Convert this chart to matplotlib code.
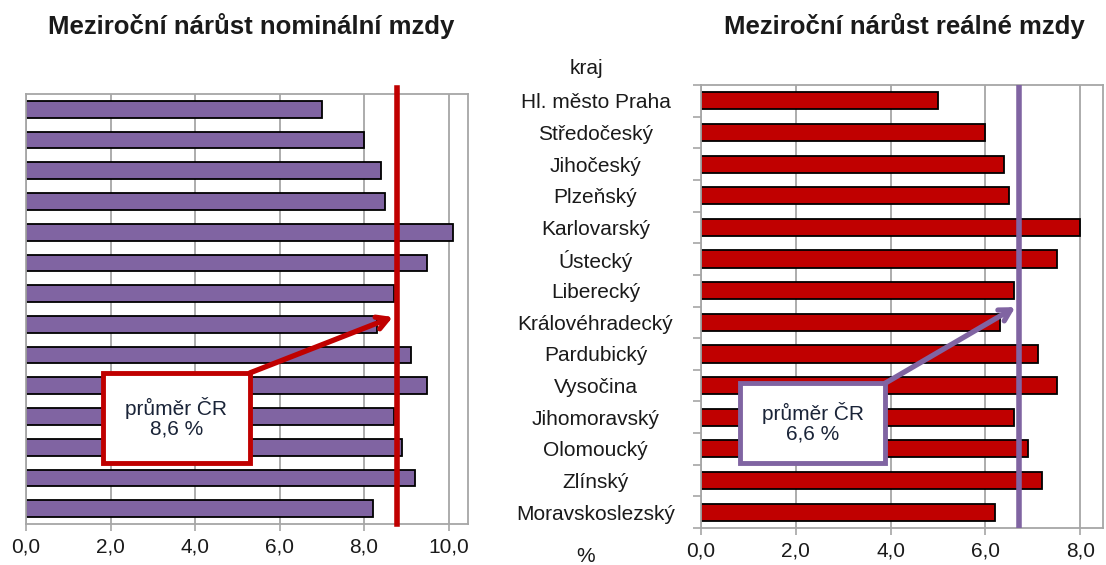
#!/usr/bin/env python3
"""
Meziroční nárůst nominální a reálné mzdy podle krajů
"""

import matplotlib
matplotlib.use('Agg')
import matplotlib.pyplot as plt
from matplotlib.patches import Rectangle
from matplotlib.ticker import FuncFormatter, FixedLocator

kraje = ['Hl. město Praha', 'Středočeský', 'Jihočeský', 'Plzeňský', 'Karlovarský',
         'Ústecký', 'Liberecký', 'Královéhradecký', 'Pardubický', 'Vysočina',
         'Jihomoravský', 'Olomoucký', 'Zlínský', 'Moravskoslezský']
nominalni = [7.0, 8.0, 8.4, 8.5, 10.1, 9.5, 8.7, 8.3, 9.1, 9.5, 8.7, 8.9, 9.2, 8.2]
realne = [5.0, 6.0, 6.4, 6.5, 8.0, 7.5, 6.6, 6.3, 7.1, 7.5, 6.6, 6.9, 7.2, 6.2]

# average lines as drawn in the source, labels as printed
prumer_nominalni = 8.78
prumer_realne = 6.71
popis_nominalni = 'průměr ČR\n8,6 %'
popis_realne = 'průměr ČR\n6,6 %'

PURPLE = '#8064A2'
RED = '#C00000'
GRID = '#A6A6A6'
TEXT = '#1a1a1a'

plt.rcParams['font.family'] = ['Liberation Sans', 'DejaVu Sans']

comma = FuncFormatter(lambda v, p: ('%.1f' % v).replace('.', ','))


def style_axes(ax, xmax, ticks):
    n = len(kraje)
    ax.set_xlim(0, xmax)
    ax.set_ylim(n - 0.5, -0.5)
    ax.set_xticks(ticks)
    ax.xaxis.set_major_formatter(comma)
    ax.grid(axis='x', color=GRID, lw=1.3)
    ax.set_axisbelow(True)
    for s in ax.spines.values():
        s.set_color(GRID)
        s.set_linewidth(1.3)
    ax.tick_params(axis='x', colors=GRID, labelcolor=TEXT, labelsize=15,
                   length=5, width=1.2, pad=5)


def callout(ax, box, text, tip, color):
    x0, y0, x1, y1 = box
    ax.add_patch(Rectangle((x0, y0), x1 - x0, y1 - y0, facecolor='white',
                           edgecolor=color, lw=3.5, zorder=5))
    ax.text((x0 + x1) / 2, (y0 + y1) / 2, text, ha='center', va='center',
            fontsize=15, color='#1a2438', zorder=6, linespacing=1.05)
    ax.annotate('', xy=tip, xytext=(x1, y0), zorder=4,
                arrowprops=dict(arrowstyle='->,head_length=0.8,head_width=0.45',
                                color=color, lw=3.8, shrinkA=0, shrinkB=0))


def main():
    fig = plt.figure(figsize=(11.06, 5.65), dpi=100)
    W, H = 1106.0, 565.0

    ax1 = fig.add_axes([26 / W, (H - 524) / H, 442 / W, 430 / H])
    ax2 = fig.add_axes([701 / W, (H - 528) / H, 402 / W, 443 / H])

    y = list(range(len(kraje)))

    # nominal
    ax1.barh(y, nominalni, height=0.54, color=PURPLE, edgecolor='black', lw=1.3, zorder=2)
    style_axes(ax1, 10.46, [0, 2, 4, 6, 8, 10])
    ax1.set_yticks([])
    ax1.axvline(prumer_nominalni, color=RED, lw=4, zorder=3, ymax=1.015, clip_on=False)
    callout(ax1, (1.82, 8.58, 5.30, 11.51), popis_nominalni, (8.68, 6.76), RED)

    # real
    ax2.barh(y, realne, height=0.54, color=RED, edgecolor='black', lw=1.3, zorder=2)
    style_axes(ax2, 8.48, [0, 2, 4, 6, 8])
    ax2.set_yticks(y)
    ax2.set_yticklabels(kraje, ha='center')
    ax2.tick_params(axis='y', which='major', length=0, pad=76, labelsize=15,
                    labelcolor=TEXT)
    ax2.yaxis.set_minor_locator(FixedLocator([i - 0.5 for i in range(len(kraje) + 1)]))
    ax2.tick_params(axis='y', which='minor', length=6, width=1.2, colors=GRID)
    ax2.axvline(prumer_realne, color=PURPLE, lw=4, zorder=3)
    callout(ax2, (0.83, 8.92, 3.89, 11.45), popis_realne, (6.63, 6.52), PURPLE)

    fig.text(251 / W, 1 - 26 / H, 'Meziroční nárůst nominální mzdy', ha='center',
             va='center', fontsize=18.5, fontweight='bold', color=TEXT)
    fig.text(904 / W, 1 - 26 / H, 'Meziroční nárůst reálné mzdy', ha='center',
             va='center', fontsize=18.5, fontweight='bold', color=TEXT)
    fig.text(586 / W, 1 - 68 / H, 'kraj', ha='center', va='center',
             fontsize=15, color=TEXT)
    fig.text(586 / W, 1 - 556 / H, '%', ha='center', va='center',
             fontsize=15, color=TEXT)

    fig.savefig('out.png', dpi=100)


if __name__ == '__main__':
    main()
